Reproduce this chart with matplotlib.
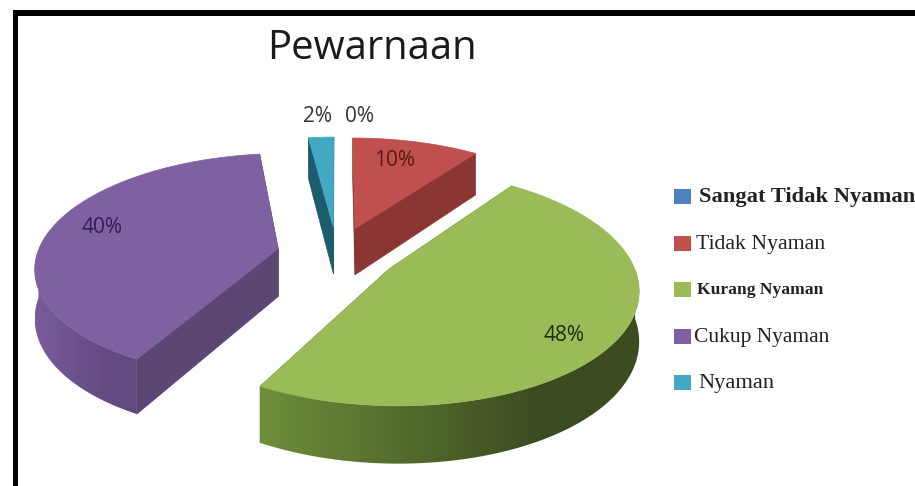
#!/usr/bin/env python3
"""Exploded 3D-style pie of colour comfort ratings, drawn with plain polygons."""

import numpy as np
import matplotlib

matplotlib.use("Agg")
import matplotlib.colors as mcolors
import matplotlib.pyplot as plt
from matplotlib.patches import Polygon, Rectangle

title = "Pewarnaan"
categories = ["Sangat Tidak Nyaman", "Tidak Nyaman", "Kurang Nyaman", "Cukup Nyaman", "Nyaman"]
values = [0, 10, 48, 40, 2]

top_colors = ["#4F81BD", "#C0504D", "#9BBB59", "#7F60A0", "#43A8C4"]
side_light = ["#3F6797", "#8F3A38", "#6F8E3A", "#7A5B9B", "#2A7F96"]
side_dark = ["#2F4D71", "#7E302E", "#3C4C20", "#614A80", "#17505F"]
cut_colors = ["#2F4D71", "#8C3634", "#55702C", "#5C4674", "#1C5C6C"]
label_colors = ["#333333", "#5A1A18", "#1E2A10", "#2E2050", "#333333"]

# projection of the pie plane onto the page, in pixels
CX, CY = 337, 254
RADIUS = 241
SQUASH = 0.461
PERSP = 0.15
EXPLODE = 0.25
DEPTH = 48

LABEL_POS = [(360, 116), (395, 160), (564, 335), (102, 227), (318, 116)]
LEGEND_Y = [197, 244, 290, 337, 383]
LEGEND_TEXT_X = [699, 696, 697, 694, 698]
LEGEND_WEIGHT = ["bold", "normal", "bold", "normal", "normal"]
LEGEND_SIZE = [16.2, 15.7, 12.6, 15.5, 16.2]


def project(u, v, drop=0.0):
    s = 1 / (1 + PERSP * v)
    return CX + RADIUS * u * s, CY - RADIUS * SQUASH * v * s + drop * s


def draw_rim(ax, u, v, theta, idx):
    # only the stretch of the outer rim that faces the viewer
    keep = np.cos(theta) <= 0.0
    if keep.sum() < 2:
        return
    xt, yt = project(u[keep], v[keep])
    xb, yb = project(u[keep], v[keep], DEPTH)
    pts = np.column_stack([np.r_[xt, xb[::-1]], np.r_[yt, yb[::-1]]])
    rim = Polygon(pts, closed=True, fc="none", ec="none")
    ax.add_patch(rim)

    # horizontal shade from light to dark, clipped to the rim outline
    cmap = mcolors.LinearSegmentedColormap.from_list(
        "rim", [(0, side_light[idx]), (0.72, side_dark[idx]), (1, side_dark[idx])])
    ramp = np.linspace(0, 1, 256)[None, :]
    img = ax.imshow(ramp, cmap=cmap, aspect="auto", interpolation="bilinear", zorder=1,
                    extent=(pts[:, 0].min(), pts[:, 0].max(), pts[:, 1].max(), pts[:, 1].min()))
    img.set_clip_path(rim)


def draw_slice(ax, start, sweep, idx):
    theta = np.radians(np.linspace(start, start + sweep, 160))
    mid = np.radians(start + sweep / 2)
    u0, v0 = EXPLODE * np.sin(mid), EXPLODE * np.cos(mid)
    u = u0 + np.sin(theta)
    v = v0 + np.cos(theta)

    # flat cut faces, drawn first so the rim and top sit over them
    for a in (theta[0], theta[-1]):
        ux, vx = u0 + np.sin(a), v0 + np.cos(a)
        pts = [project(u0, v0), project(ux, vx), project(ux, vx, DEPTH), project(u0, v0, DEPTH)]
        ax.add_patch(Polygon(pts, closed=True, fc=cut_colors[idx], ec=cut_colors[idx], lw=0.5))

    draw_rim(ax, u, v, theta, idx)

    top = [project(u0, v0)] + [project(a, b) for a, b in zip(u, v)]
    ax.add_patch(Polygon(top, closed=True, fc=top_colors[idx], ec=top_colors[idx], lw=0.5))


def main():
    plt.rcParams["font.family"] = ["Open Sans", "DejaVu Sans"]
    fig = plt.figure(figsize=(9.15, 4.86), dpi=100)
    ax = fig.add_axes([0, 0, 1, 1])
    ax.axis("off")

    # black frame running off the right and bottom edges
    ax.add_patch(Rectangle((13, 10), 902, 6, fc="black", ec="none"))
    ax.add_patch(Rectangle((13, 10), 5, 476, fc="black", ec="none"))

    ax.text(372, 49, title, fontsize=28.8, ha="center", va="center", color="#1a1a1a")

    total = sum(values)
    sweeps = [v / total * 360 for v in values]
    starts = np.cumsum([0] + sweeps[:-1])
    order = sorted((i for i in range(len(values)) if values[i] > 0), key=lambda i: i == 2)
    for i in order:
        draw_slice(ax, starts[i], sweeps[i], i)

    for i, (x, y) in enumerate(LABEL_POS):
        ax.text(x, y, f"{values[i]}%", fontsize=15, ha="center", va="center",
                color=label_colors[i], zorder=3)

    for i, name in enumerate(categories):
        y = LEGEND_Y[i]
        ax.add_patch(Rectangle((674, y - 8.5), 17, 15, fc=top_colors[i], ec="none"))
        ax.text(LEGEND_TEXT_X[i], y, name, family="Liberation Serif", fontsize=LEGEND_SIZE[i],
                fontweight=LEGEND_WEIGHT[i], ha="left", va="center", color="#222222")

    # imshow resets the limits, so the pixel frame is set last
    ax.set_xlim(0, 915)
    ax.set_ylim(486, 0)
    fig.savefig("out.png", dpi=100)
    plt.close(fig)


if __name__ == "__main__":
    main()
